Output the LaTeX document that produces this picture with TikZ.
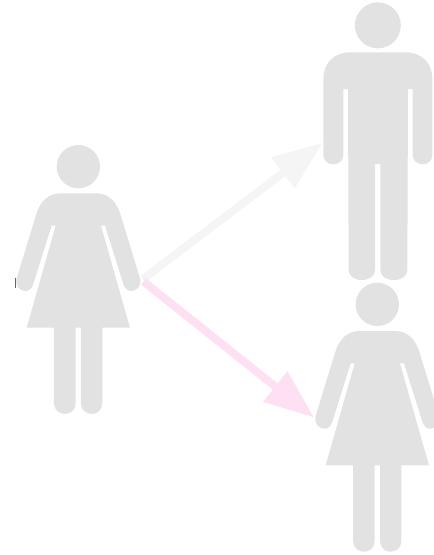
\documentclass[tikz,border=0pt]{standalone}
\usetikzlibrary{arrows.meta}
\definecolor{figgray}{HTML}{E2E2E2}
\definecolor{arrowgray}{HTML}{F5F5F5}
\definecolor{arrowpink}{HTML}{FDE1F2}
\tikzset{
  figure/.style={fill=figgray,draw=none},
  linkarrow/.style={line width=8pt,-{Triangle[length=50pt,width=37pt]}},
  woman/.pic={
    \fill[figure] (235,110) circle [radius=65];
    \fill[figure] (180,190) -- (290,190)
      .. controls (325,190) and (350,215) .. (362,255)
      -- (420,445) .. controls (426,468) and (410,483) .. (394,483)
      .. controls (382,483) and (375,476) .. (370,462)
      -- (315,287) -- (303,287) -- (390,593) -- (307,593) -- (307,820)
      .. controls (307,840) and (292,852) .. (275,852)
      .. controls (258,852) and (243,840) .. (243,820)
      -- (243,593) -- (227,593) -- (227,820)
      .. controls (227,840) and (212,852) .. (195,852)
      .. controls (178,852) and (162,840) .. (162,820)
      -- (162,593) -- (80,593) -- (167,287) -- (155,287) -- (100,462)
      .. controls (95,476) and (88,483) .. (76,483)
      .. controls (60,483) and (44,468) .. (50,445)
      -- (108,255) .. controls (120,215) and (145,190) .. (180,190) -- cycle;
  },
  man/.pic={
    \fill[figure] (233.5,76) circle [radius=69];
    \fill[figure] (150,157) -- (317,157)
      .. controls (365,157) and (397,190) .. (397,235)
      -- (397,465) .. controls (397,482) and (384,493) .. (368,493)
      .. controls (352,493) and (338,482) .. (338,465)
      -- (338,267) -- (324,267) -- (322,810)
      .. controls (322,828) and (305,840) .. (282,840)
      .. controls (258,840) and (241,828) .. (241,810)
      -- (241,492) -- (225,492) -- (225,810)
      .. controls (225,828) and (208,840) .. (185,840)
      .. controls (162,840) and (146,828) .. (146,810)
      -- (144,267) -- (130,267) -- (130,465)
      .. controls (130,482) and (116,493) .. (100,493)
      .. controls (84,493) and (70,482) .. (70,465)
      -- (70,235) .. controls (70,190) and (102,157) .. (150,157) -- cycle;
  }
}
\begin{document}
\begin{tikzpicture}[x=1pt,y=-1pt]
  \useasboundingbox (0,0) rectangle (434,555);
  \clip (0,0) rectangle (434,555);
  \coordinate (source) at (143,279);
  \coordinate (sourcepink) at (143.5,281.5);
  \coordinate (manhand) at (322.7,142.7);
  \coordinate (womanhand) at (314.3,417.7);
  \draw[linkarrow,arrowgray] (source) -- (manhand);
  \draw[linkarrow,arrowpink] (sourcepink) -- (womanhand);
  \draw[line width=1.2pt,black!60] (15.4,277.5) -- (15.4,287.5);
  \begin{scope}[shift={(0,130)},scale=1/3]
    \pic[transform shape] {woman};
  \end{scope}
  \begin{scope}[shift={(300,0)},scale=1/3]
    \pic[transform shape] {man};
  \end{scope}
  \begin{scope}[shift={(299,267.7)},scale=1/3]
    \pic[transform shape] {woman};
  \end{scope}
\end{tikzpicture}
\end{document}
